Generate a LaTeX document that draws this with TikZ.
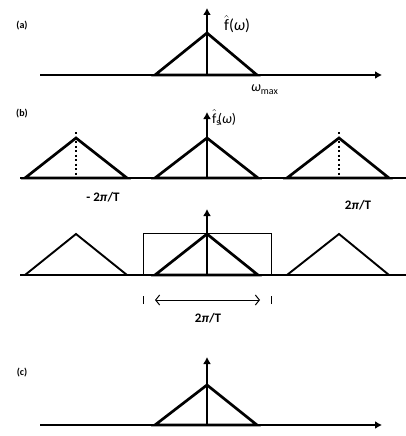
\documentclass[tikz,border=0pt]{standalone}
\usepackage{amsmath}
\usepackage{fontspec}
\setmainfont{Carlito}
\usetikzlibrary{arrows.meta}
\newcommand{\om}{{\itshape ω}}
\newcommand{\pii}{{\itshape π}}
\newcommand{\fhat}{$\hat{\text{f}}$}
\begin{document}
\begin{tikzpicture}[x=1pt,y=-1pt,
  axis/.style={line width=2.2pt},
  axisarr/.style={line width=2.2pt,-{Latex[length=7pt,width=8pt]}},
  tri/.style={line width=2.7pt,line join=miter},
  thintri/.style={line width=1.9pt,line join=miter},
  varr/.style={line width=1.9pt,-{Latex[length=7pt,width=8pt]}},
  dotline/.style={line width=1.2pt,dash pattern=on 2pt off 2.5pt},
  thin/.style={line width=1pt},
  lbl/.style={font=\fontsize{10}{11}\selectfont\bfseries,inner sep=0pt},
  txt/.style={font=\fontsize{16}{17}\selectfont,inner sep=0pt},
  pilbl/.style={font=\fontsize{13}{14}\selectfont\bfseries,inner sep=0pt},
]
\useasboundingbox (0,0) rectangle (406,436);

% ---------- (a) ----------
\node[lbl] (la) at (22,26) {(a)};
\coordinate (a0) at (40,75);
\coordinate (a1) at (382,75);
\coordinate (ac) at (207,75);
\coordinate (at) at (207,8);
\draw[axisarr] (a0) -- (a1);
\draw[tri] (155,75) -- (207,33) -- (257,75) -- cycle;
\draw[varr] (ac) -- (at);
\node[txt,anchor=base west] (fa) at (224,31) {\fhat(\om)};
\node[txt,anchor=base west,font=\fontsize{14}{15}\selectfont] (wmax) at (251,91) {\om\raisebox{-3pt}{\fontsize{10}{11}\selectfont max}};

% ---------- (b) first row ----------
\node[lbl] (lb) at (22,114) {(b)};
\coordinate (b0) at (20,178);
\coordinate (b1) at (406,178);
\draw[axis] (b0) -- (b1);
\draw[tri] (25,178) -- (76,138) -- (127,178) -- cycle;
\draw[tri] (155,178) -- (207,138) -- (258,178) -- cycle;
\draw[tri] (287,178) -- (339,138) -- (389,178) -- cycle;
\draw[dotline] (76,132) -- (76,178);
\draw[dotline] (339,132) -- (339,178);
\coordinate (bc) at (207,178);
\coordinate (bt) at (207,112);
\draw[varr] (bc) -- (bt);
\node[txt,anchor=base west,font=\fontsize{14}{15}\selectfont] (fs) at (212,123) {$\hat{\text{f}}_{\text{s}}$\kern-3pt(\om)};
\node[pilbl] (m2pi) at (103,197) {- 2\pii/T};
\node[pilbl] (p2pi) at (358,205) {2\pii/T};

% ---------- (b) second row ----------
\coordinate (c0) at (20,275);
\coordinate (c1) at (406,275);
\draw[axis] (c0) -- (c1);
\draw[thintri] (25,275) -- (76,234) -- (127,275) -- cycle;
\draw[tri] (155,275) -- (207,234) -- (258,275) -- cycle;
\draw[thintri] (287,275) -- (339,234) -- (389,275) -- cycle;
\draw[thin] (143,275) |- (271,233) -- (271,275);
\coordinate (cc) at (207,275);
\coordinate (ct) at (207,209);
\draw[varr] (cc) -- (ct);
\coordinate (w0) at (143,300);
\coordinate (w1) at (271,300);
\draw[thin] ([yshift=-4pt]w0) -- ([yshift=4pt]w0);
\draw[thin] ([yshift=-4pt]w1) -- ([yshift=4pt]w1);
\coordinate (d0) at (155,300);
\coordinate (d1) at (260,300);
\draw[thin,{Straight Barb[length=4pt,width=10pt]}-{Straight Barb[length=4pt,width=10pt]}] (d0) -- (d1);
\node[pilbl] (w2pi) at (208,318) {2\pii/T};

% ---------- (c) ----------
\node[lbl] (lc) at (22,373) {(c)};
\coordinate (e0) at (40,425);
\coordinate (e1) at (382,425);
\draw[axisarr] (e0) -- (e1);
\draw[tri] (155,425) -- (207,385) -- (257,425) -- cycle;
\coordinate (ec) at (207,425);
\coordinate (et) at (207,357);
\draw[varr] (ec) -- (et);
\end{tikzpicture}
\end{document}
